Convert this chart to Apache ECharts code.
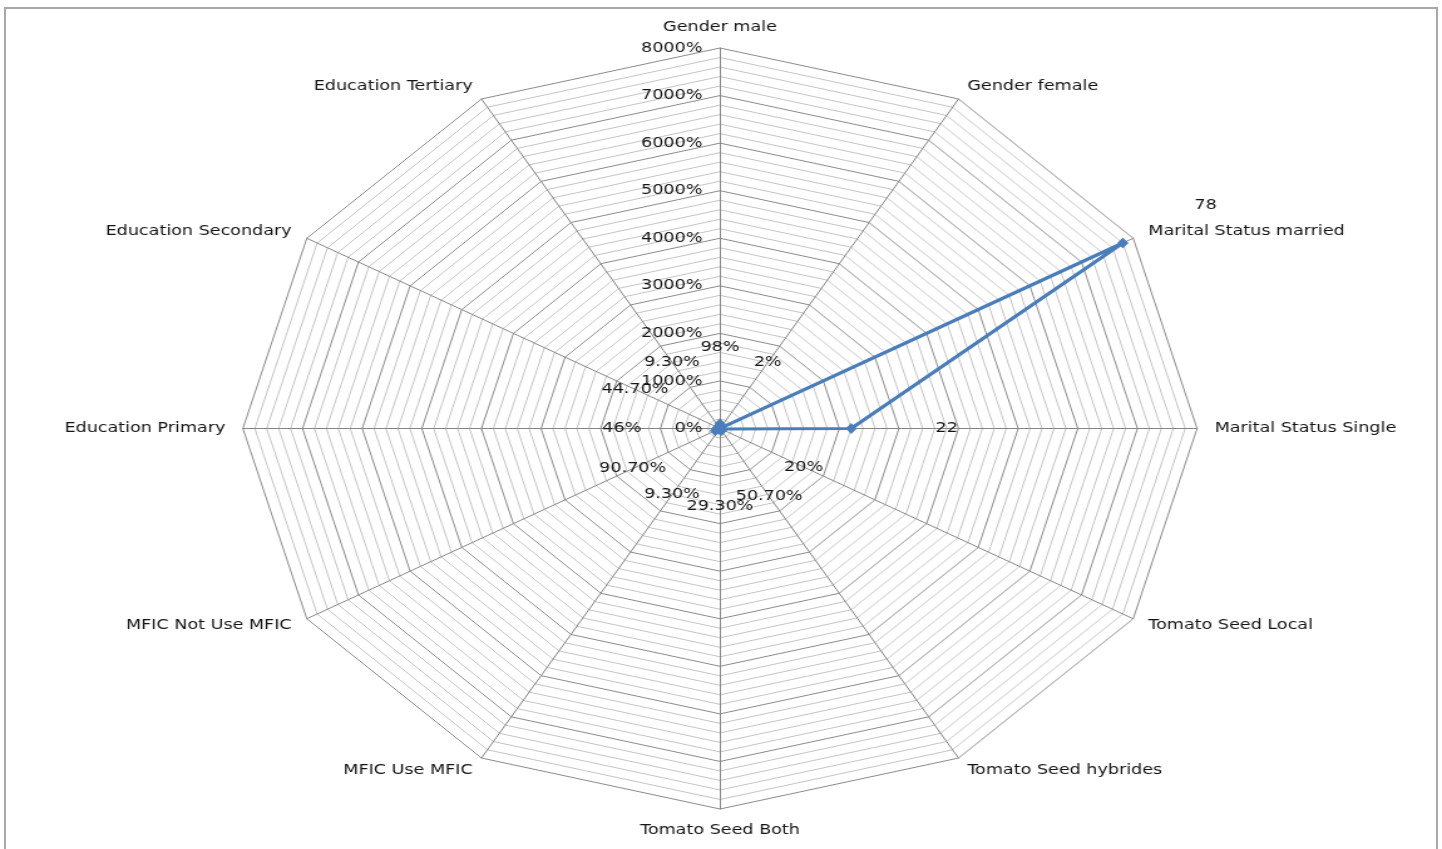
<!DOCTYPE html>
<html>
<head>
<meta charset="utf-8">
<script src="https://cdn.jsdelivr.net/npm/echarts@6/dist/echarts.min.js"></script>
<style>
html,body{margin:0;padding:0;background:#fff;overflow:hidden;width:1442px;height:849px;}
#frame{position:absolute;left:4px;top:7px;width:1434px;height:900px;border:2px solid #a9a9a9;border-bottom:none;box-sizing:border-box;}
#chart{position:absolute;left:0;top:0;width:1150px;height:849px;transform:scaleX(1.2539);transform-origin:0 0;}
</style>
</head>
<body>
<div id="frame"></div>
<div id="chart"></div>
<script>
// ---- data (clockwise from top, as in the reference) ----
const categories = ['Gender male', 'Gender female', 'Marital Status married', 'Marital Status Single',
  'Tomato Seed Local', 'Tomato Seed hybrides', 'Tomato Seed Both', 'MFIC Use MFIC',
  'MFIC Not Use MFIC', 'Education Primary', 'Education Secondary', 'Education Tertiary'];
const values = [0.98, 0.02, 78, 22, 0.2, 0.507, 0.293, 0.093, 0.907, 0.46, 0.447, 0.093];
const valueLabels = ['98%', '2%', '78', '22', '20%', '50.70%', '29.30%', '9.30%', '90.70%', '46%', '44.70%', '9.30%'];
const axisMin = 0;
const axisMax = 80;
const tickValues = [0, 10, 20, 30, 40, 50, 60, 70, 80];
const tickLabels = ['0%', '1000%', '2000%', '3000%', '4000%', '5000%', '6000%', '7000%', '8000%'];

// ---- style constants ----
const FONT = 'DejaVu Sans';
const TEXT = '#141414';
const BLUE = '#4a7ebb';
const LABEL_OFFSET = 16; // radial offset of data labels, in axis units
const N = categories.length;

// ECharts places indicators counter-clockwise; reorder to get clockwise layout
const order = categories.map((_, i) => (N - i) % N);
const ordCats = order.map(i => categories[i]);
const ordVals = order.map(i => values[i]);
const ordLabels = order.map(i => valueLabels[i]);
const anchorVals = ordVals.map(v => v + LABEL_OFFSET);

const indicator = ordCats.map((name, i) => {
  const ind = { name: name, min: axisMin, max: axisMax };
  if (i === 0) {
    ind.axisLabel = {
      show: true, color: TEXT, fontFamily: FONT, fontSize: 14, margin: 14,
      formatter: function (v) {
        const k = tickValues.findIndex(t => Math.abs(t - v) < 1e-6);
        return k >= 0 ? tickLabels[k] : '';
      }
    };
  }
  return ind;
});

const chart = echarts.init(document.getElementById('chart'), null, { renderer: 'canvas' });
chart.setOption({
  animation: false,
  backgroundColor: 'transparent',
  radar: {
    center: [574.2, 428.5],
    radius: 380.5,
    startAngle: 90,
    shape: 'polygon',
    splitNumber: 40,
    indicator: indicator,
    axisName: { color: TEXT, fontFamily: FONT, fontSize: 14 },
    nameGap: 14,
    axisLine: { show: true, lineStyle: { color: '#868686', width: 1 } },
    axisTick: { show: false },
    axisLabel: { show: false },
    splitLine: { show: true, lineStyle: { width: 1, color: ['#8a8a8a', '#c4c4c4', '#c4c4c4', '#c4c4c4', '#c4c4c4'] } },
    splitArea: { show: false }
  },
  series: [
    {
      type: 'radar',
      silent: true,
      symbol: 'diamond',
      symbolSize: [9, 11],
      lineStyle: { color: BLUE, width: 3.2 },
      itemStyle: { color: BLUE },
      data: [{ value: ordVals }],
      z: 3
    },
    {
      type: 'radar',
      silent: true,
      symbol: 'circle',
      symbolSize: 1,
      lineStyle: { width: 0, opacity: 0 },
      itemStyle: { color: 'rgba(0,0,0,0)' },
      label: {
        show: true, position: 'inside', color: TEXT, fontFamily: FONT, fontSize: 14,
        formatter: function (p) {
          const k = anchorVals.findIndex(a => Math.abs(a - p.value) < 1e-9);
          return k >= 0 ? ordLabels[k] : '';
        }
      },
      data: [{ value: anchorVals }],
      z: 4
    }
  ]
});
</script>
</body>
</html>
